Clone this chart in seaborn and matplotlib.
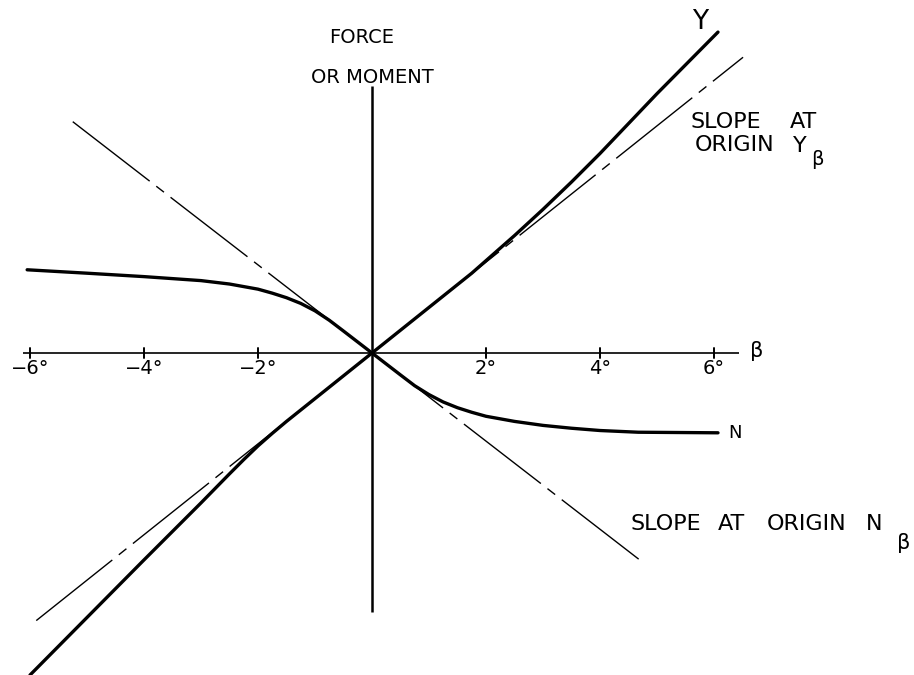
import matplotlib
matplotlib.use("Agg")
import matplotlib.pyplot as plt
import seaborn as sns
import pandas as pd

sns.set_style("white")
plt.rcParams["font.family"] = ["DejaVu Sans"]
plt.rcParams["text.color"] = "black"
plt.rcParams["lines.scale_dashes"] = False

# Sideslip angle beta (deg) and side force Y (same plotting units as beta)
beta_y = [-6.0, -5.0, -4.0, -3.0, -2.5, -2.25, -2.0, -1.75, -1.5, -1.0, -0.5, 0.0,
          0.5, 1.0, 1.5, 1.75, 2.0, 2.5, 3.0, 3.5, 4.0, 5.0, 6.07]
side_force = [-5.65, -4.64, -3.63, -2.63, -2.12, -1.87, -1.63, -1.41, -1.20, -0.80, -0.40, 0.0,
              0.40, 0.80, 1.20, 1.40, 1.62, 2.06, 2.52, 3.00, 3.50, 4.55, 5.63]

# Sideslip angle beta (deg) and yawing moment N
beta_n = [-6.05, -5.0, -4.0, -3.0, -2.5, -2.0, -1.75, -1.5, -1.25, -1.0, -0.75, -0.5, 0.0,
          0.5, 0.75, 1.0, 1.25, 1.5, 1.75, 2.0, 2.5, 3.0, 3.5, 4.0, 4.67, 6.07]
yaw_moment = [1.46, 1.40, 1.34, 1.27, 1.21, 1.12, 1.05, 0.97, 0.87, 0.74, 0.575, 0.385, 0.0,
              -0.385, -0.575, -0.73, -0.86, -0.96, -1.04, -1.11, -1.20, -1.27, -1.32, -1.36,
              -1.39, -1.40]

# Initial slopes at the origin and the extent of each tangent line
slope_y_beta = 0.797
slope_n_beta = -0.773
tangent_y_beta = [-5.89, 6.51]
tangent_n_beta = [-5.25, 4.70]

tick_values = [-6, -4, -2, 2, 4, 6]
tick_labels = ["\u22126\u00b0", "\u22124\u00b0", "\u22122\u00b0", "2\u00b0", "4\u00b0", "6\u00b0"]

curves = pd.concat([
    pd.DataFrame({"beta": beta_y, "value": side_force, "curve": "Y"}),
    pd.DataFrame({"beta": beta_n, "value": yaw_moment, "curve": "N"}),
])
tangents = pd.concat([
    pd.DataFrame({"beta": tangent_y_beta,
                  "value": [slope_y_beta * b for b in tangent_y_beta], "curve": "Y_beta"}),
    pd.DataFrame({"beta": tangent_n_beta,
                  "value": [slope_n_beta * b for b in tangent_n_beta], "curve": "N_beta"}),
])

fig = plt.figure(figsize=(9.14, 6.75), dpi=100)
ax = fig.add_axes([0, 0, 1, 1])
ax.set_xlim(-372 / 57, 542 / 57)
ax.set_ylim(-322 / 57, 353 / 57)
ax.set_axis_off()

# Axes of the sketch
ax.plot([-6.12, 6.44], [0, 0], color="black", lw=1.2, solid_capstyle="butt")
ax.plot([0, 0], [-4.54, 4.68], color="black", lw=1.8, solid_capstyle="butt")
for t, lab in zip(tick_values, tick_labels):
    ax.plot([t, t], [-0.08, 0.08], color="black", lw=1.4)
    ax.text(t, -0.27, lab, ha="center", va="center", fontsize=14)

# Tangent lines at the origin, long-short dashed
n_before = len(ax.lines)
sns.lineplot(data=tangents, x="beta", y="value", units="curve", estimator=None,
             sort=False, color="black", lw=1.0, ax=ax, legend=False)
for line in ax.lines[n_before:]:
    line.set_dashes((70, 6, 7, 6))

# Force and moment curves
sns.lineplot(data=curves, x="beta", y="value", units="curve", estimator=None,
             sort=False, color="black", lw=2.4, ax=ax, legend=False)
ax.set_xlabel("")
ax.set_ylabel("")

txt = dict(color="black", va="center")
ax.text(6.75, 0.03, "\u03b2", fontsize=15, ha="center", **txt)
ax.text(-0.19, 5.53, "FORCE", fontsize=14, ha="center", **txt)
ax.text(0.0, 4.84, "OR MOMENT", fontsize=14, ha="center", **txt)
ax.text(5.75, 5.81, "Y", fontsize=19, ha="center", **txt)
ax.text(6.37, -1.40, "N", fontsize=13, ha="center", **txt)

# Label for the side force slope
ax.text(5.58, 4.05, "SLOPE", fontsize=16, ha="left", **txt)
ax.text(7.33, 4.05, "AT", fontsize=16, ha="left", **txt)
ax.text(5.67, 3.65, "ORIGIN", fontsize=16, ha="left", **txt)
ax.text(7.38, 3.63, "Y", fontsize=16, ha="left", **txt)
ax.text(7.81, 3.40, "\u03b2", fontsize=14, ha="center", **txt)

# Label for the yawing moment slope
ax.text(4.53, -3.00, "SLOPE", fontsize=16, ha="left", **txt)
ax.text(6.07, -3.00, "AT", fontsize=16, ha="left", **txt)
ax.text(6.93, -3.00, "ORIGIN", fontsize=16, ha="left", **txt)
ax.text(8.67, -3.00, "N", fontsize=16, ha="left", **txt)
ax.text(9.33, -3.33, "\u03b2", fontsize=15, ha="center", **txt)

fig.savefig("out.png", dpi=100)
